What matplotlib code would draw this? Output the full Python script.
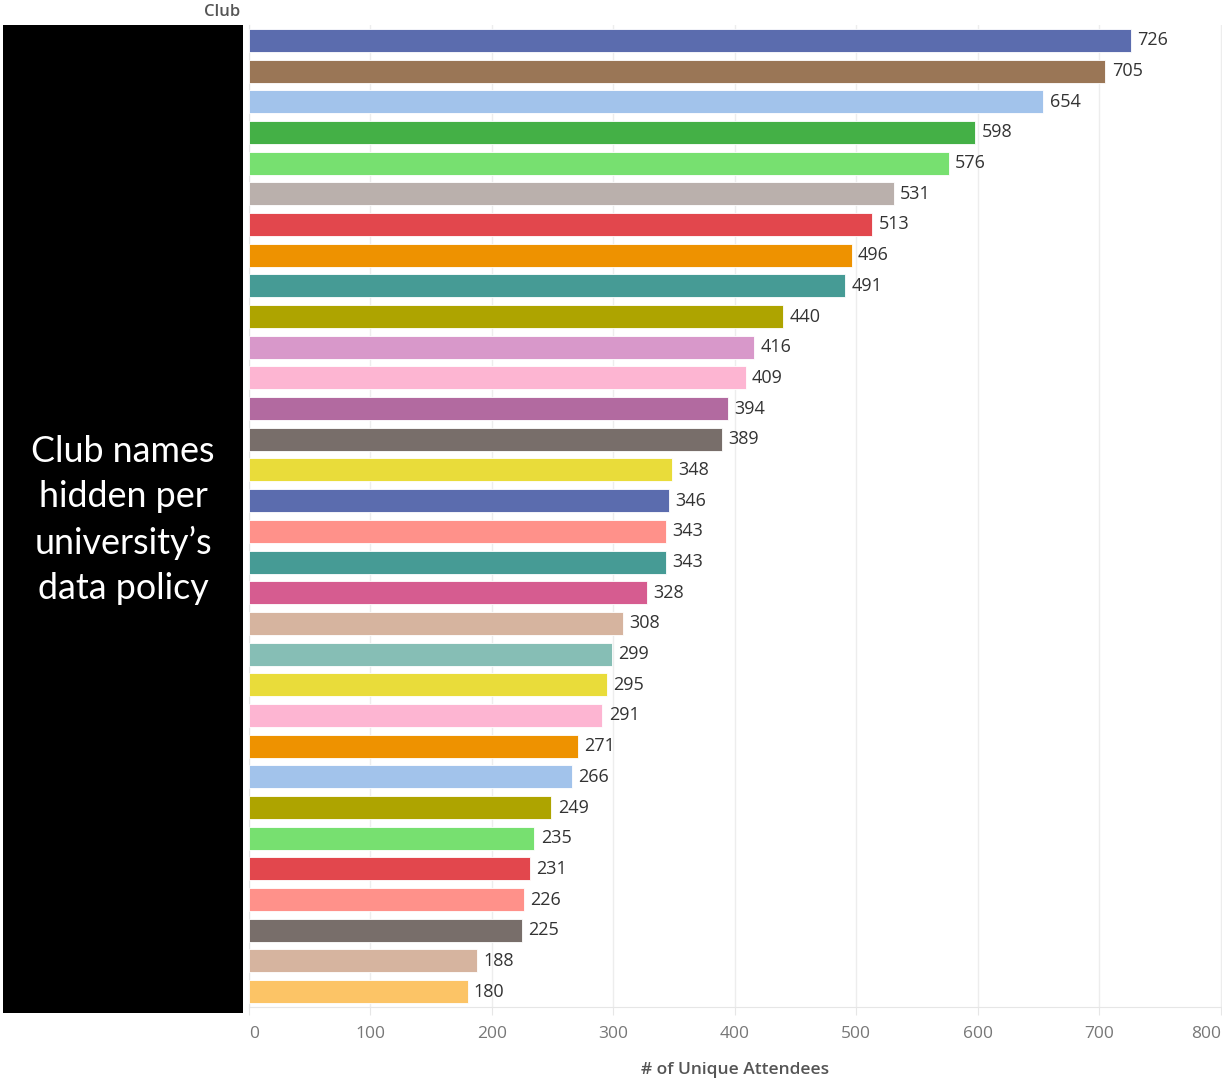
import matplotlib
matplotlib.use("Agg")
import matplotlib.pyplot as plt
from matplotlib.patches import Rectangle

values = [726, 705, 654, 598, 576, 531, 513, 496, 491, 440, 416, 409, 394, 389,
          348, 346, 343, 343, 328, 308, 299, 295, 291, 271, 266, 249, 235, 231,
          226, 225, 188, 180]
colors = ["#5B6CAE", "#9A7656", "#A2C3EB", "#44B046", "#77E070", "#BAB0AC",
          "#E2474D", "#EE9200", "#469B95", "#AEA400", "#D898CA", "#FDB5D2",
          "#B26AA0", "#786E6A", "#E9DC3A", "#5B6CAE", "#FF918A", "#469B95",
          "#D65C90", "#D6B49F", "#86BEB5", "#E9DC3A", "#FDB5D2", "#EE9200",
          "#A2C3EB", "#AEA400", "#77E070", "#E2474D", "#FF918A", "#786E6A",
          "#D6B49F", "#FCC466"]
xticks = [0, 100, 200, 300, 400, 500, 600, 700, 800]

W, H = 1222, 1080
fig = plt.figure(figsize=(W / 100, H / 100), dpi=100)
plt.rcParams['font.family'] = ['Open Sans', 'DejaVu Sans']

left, right, top, bottom = 249, 1222, 25, 1007
ax = fig.add_axes([left / W, 1 - bottom / H, (right - left) / W, (bottom - top) / H])

pos = list(range(len(values)))
ax.barh(pos, values, height=0.75, color=colors, edgecolor="white", linewidth=0.6, zorder=3)
for p, v in zip(pos, values):
    ax.annotate(str(v), (v, p), xytext=(4.5, 0), textcoords="offset points",
                va="center", ha="left", fontsize=13, color="#333333",
                fontfamily="Open Sans")

ax.set_xlim(0, 801)
ax.set_ylim(len(values) - 0.5, -0.5)
ax.set_yticks([])
ax.set_xticks(xticks)
ax.set_xticklabels([str(t) for t in xticks], fontsize=12.5, color="#777777")
labels = ax.get_xticklabels()
labels[0].set_ha("left")
labels[-1].set_ha("right")
ax.tick_params(axis="x", length=6, color="#E6E6E6", pad=8)
ax.grid(axis="x", color="#EDEDED", linewidth=1, zorder=0)
for s in ["top", "right"]:
    ax.spines[s].set_visible(False)
ax.spines["bottom"].set_color("#E6E6E6")
ax.spines["left"].set_color("#E6E6E6")
ax.set_xlabel("# of Unique Attendees", fontsize=12.5, color="#555555",
              fontweight="semibold", labelpad=14)

fig.text(240 / W, 1 - 12 / H, "Club", ha="right", va="center", fontsize=12,
         color="#555555", fontweight="semibold")

fig.patches.append(Rectangle((3 / W, 1 - 1013 / H), 240 / W, 988 / H,
                             transform=fig.transFigure, facecolor="black",
                             edgecolor="none", zorder=5))
fig.text(123 / W, 1 - 520 / H, "Club names\nhidden per\nuniversity\u2019s\ndata policy",
         ha="center", va="center", fontsize=25.8, color="white",
         fontfamily="Lato", linespacing=1.45, zorder=6)

fig.savefig("out.png", dpi=100, facecolor="white")
